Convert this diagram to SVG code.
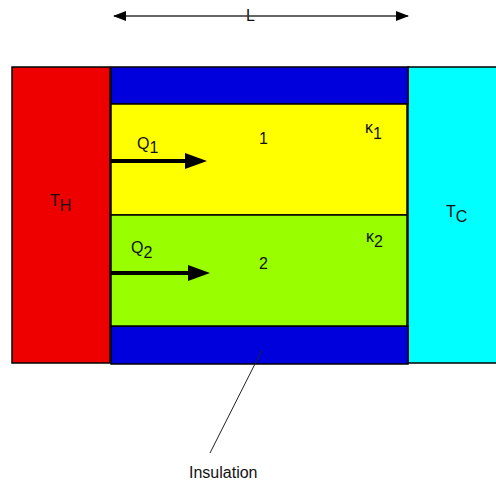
<svg xmlns="http://www.w3.org/2000/svg" width="496" height="483" viewBox="0 0 496 483">
<style>
text{font-family:"Liberation Sans",Arial,sans-serif;font-size:16px;fill:#111}
.b{stroke:#000;stroke-width:1.5}
</style>
<defs>
<marker id="ah" viewBox="0 0 22 16" refX="15" refY="8" markerWidth="22" markerHeight="16" orient="auto" markerUnits="userSpaceOnUse"><path d="M0,0 L22,8 L0,16 z" fill="#000"/></marker>
<marker id="sh" viewBox="0 0 13 10" refX="12" refY="5" markerWidth="13" markerHeight="10" orient="auto-start-reverse" markerUnits="userSpaceOnUse"><path d="M0,0 L13,5 L0,10 z" fill="#000"/></marker>
</defs>
<rect width="496" height="483" fill="#fff"/>
<g id="hot"><rect x="12" y="67" width="98" height="296" fill="#ee0000" class="b"/><text x="50" y="206">T<tspan dy="5">H</tspan></text></g>
<g id="cold"><rect x="408" y="67" width="90" height="296" fill="#00ffff" class="b"/><text x="446" y="217">T<tspan dy="5">C</tspan></text></g>
<g id="insulation-top"><rect x="111" y="67" width="297" height="37" fill="#0000dd" class="b"/></g>
<g id="insulation-bottom"><rect x="111" y="326" width="297" height="38" fill="#0000dd" class="b"/></g>
<g id="layer1"><rect x="111" y="104" width="296" height="111" fill="#ffff00" class="b"/><text x="259" y="144">1</text><text x="365" y="133" font-size="12">κ<tspan font-size="16" dy="6">1</tspan></text></g>
<g id="layer2"><rect x="111" y="215" width="296" height="111" fill="#99ff00" class="b"/><text x="259" y="269">2</text><text x="366" y="242" font-size="12">κ<tspan font-size="16" dy="5">2</tspan></text></g>
<g id="labels"><text x="137" y="149">Q<tspan dy="4">1</tspan></text><text x="131" y="253">Q<tspan dy="5">2</tspan></text><text x="246" y="21" font-size="17">L</text><text x="189" y="478" font-size="17.5">Insulation</text></g>
<g id="connectors">
<line x1="111" y1="161" x2="200" y2="161" stroke="#000" stroke-width="4" marker-end="url(#ah)"/>
<line x1="111" y1="273" x2="203" y2="273" stroke="#000" stroke-width="4" marker-end="url(#ah)"/>
<line x1="114" y1="16" x2="408" y2="16" stroke="#333" stroke-width="1.3" marker-start="url(#sh)" marker-end="url(#sh)"/>
<line x1="262" y1="350" x2="210" y2="453" stroke="#222" stroke-width="1"/>
</g>
</svg>
